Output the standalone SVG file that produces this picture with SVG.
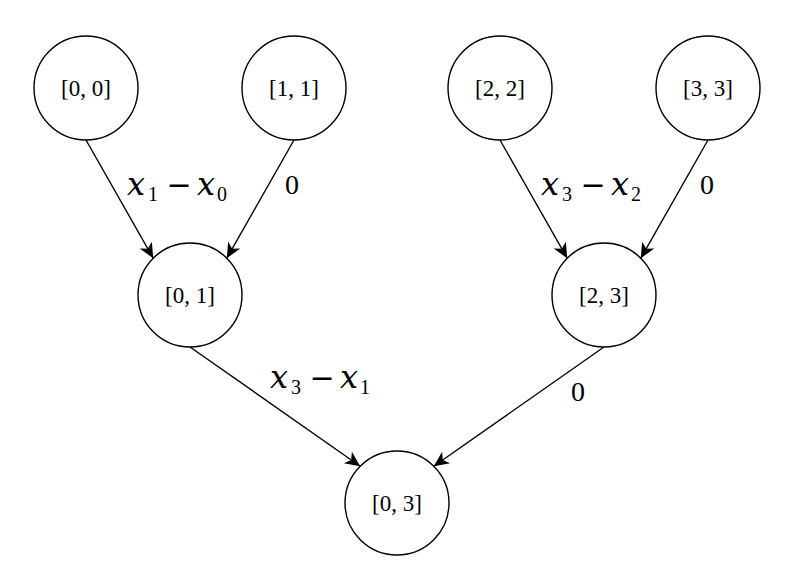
<svg xmlns="http://www.w3.org/2000/svg" width="800" height="578" viewBox="0 0 800 578">
<defs>
<style>
.node circle{fill:#fff;stroke:#000;stroke-width:1.4}
.nl{font-family:"Liberation Serif","Times New Roman",serif;font-size:23px;text-anchor:middle;fill:#000}
.edge{stroke:#000;stroke-width:1.4;fill:none;marker-end:url(#arr)}
.lab{font-family:"Liberation Serif","Times New Roman",serif;fill:#000}
.vx{font-family:"DejaVu Serif",serif;font-style:italic;font-size:32px}
.sub{font-size:20px}
.mn{font-family:"DejaVu Serif",serif;font-size:30px;text-anchor:middle}
.zero{font-size:28px;text-anchor:middle}
</style>
<marker id="arr" viewBox="-16 -8 17 16" refX="0" refY="0" markerWidth="17" markerHeight="16" markerUnits="userSpaceOnUse" orient="auto">
<path d="M0,0 L-15,-7 L-11,0 L-15,7 Z" fill="#000"/>
</marker>
</defs>
<rect width="800" height="578" fill="#fff"/>
<g id="connectors">
<line class="edge" x1="86" y1="140" x2="153.2" y2="258.2"/>
<line class="edge" x1="294" y1="140" x2="226.8" y2="258.2"/>
<line class="edge" x1="500" y1="140" x2="567.2" y2="258.2"/>
<line class="edge" x1="708" y1="140" x2="640.8" y2="258.2"/>
<line class="edge" x1="190" y1="347" x2="360.2" y2="466.2"/>
<line class="edge" x1="604" y1="347" x2="433.8" y2="466.2"/>
</g>
<g id="edge-labels">
<text class="lab"><tspan class="vx" x="127" y="195">x</tspan><tspan class="sub" x="148" y="201">1</tspan><tspan class="mn" x="179" y="195">−</tspan><tspan class="vx" x="197" y="195">x</tspan><tspan class="sub" x="217" y="201">0</tspan></text>
<text class="lab zero" x="292" y="194">0</text>
<text class="lab"><tspan class="vx" x="270" y="388">x</tspan><tspan class="sub" x="291" y="394">3</tspan><tspan class="mn" x="322" y="388">−</tspan><tspan class="vx" x="340" y="388">x</tspan><tspan class="sub" x="360" y="394">1</tspan></text>
<text class="lab zero" x="578" y="401">0</text>
<text class="lab"><tspan class="vx" x="541" y="195">x</tspan><tspan class="sub" x="562" y="201">3</tspan><tspan class="mn" x="593" y="195">−</tspan><tspan class="vx" x="611" y="195">x</tspan><tspan class="sub" x="631" y="201">2</tspan></text>
<text class="lab zero" x="707" y="194">0</text>
</g>
<g id="n00" class="node"><circle cx="86" cy="88" r="52"/><text class="nl" x="86" y="96">[0, 0]</text></g>
<g id="n11" class="node"><circle cx="294" cy="88" r="52"/><text class="nl" x="294" y="96">[1, 1]</text></g>
<g id="n22" class="node"><circle cx="500" cy="88" r="52"/><text class="nl" x="500" y="96">[2, 2]</text></g>
<g id="n33" class="node"><circle cx="708" cy="88" r="52"/><text class="nl" x="708" y="96">[3, 3]</text></g>
<g id="n01" class="node"><circle cx="190" cy="295" r="52"/><text class="nl" x="190" y="303">[0, 1]</text></g>
<g id="n23" class="node"><circle cx="604" cy="295" r="52"/><text class="nl" x="604" y="303">[2, 3]</text></g>
<g id="n03" class="node"><circle cx="397" cy="503" r="52"/><text class="nl" x="397" y="511">[0, 3]</text></g>
</svg>
